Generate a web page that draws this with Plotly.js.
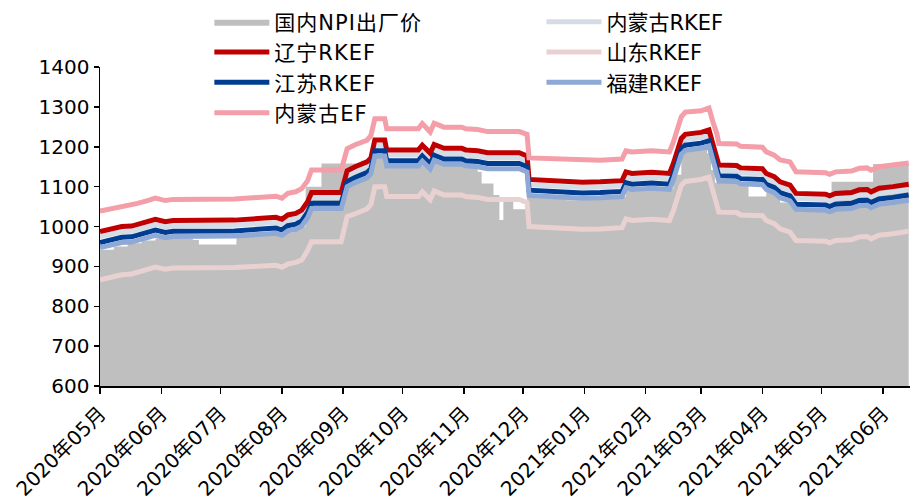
<!DOCTYPE html>
<html>
<head>
<meta charset="utf-8">
<script src="https://cdn.plot.ly/plotly-3.0.1.min.js"></script>
<style>html,body{margin:0;padding:0;background:#fff;}#chart{width:910px;height:500px;}
.legendtext{letter-spacing:1px;}</style>
</head>
<body>
<div id="chart"></div>
<script>
// ---- data ----
const dates = ["2020-05-01","2020-05-04","2020-05-08","2020-05-12","2020-05-17","2020-05-20","2020-05-25","2020-05-29","2020-06-03","2020-06-07",
"2020-07-08","2020-07-22","2020-07-29","2020-08-01","2020-08-04","2020-08-08","2020-08-11","2020-08-14","2020-08-16","2020-08-31",
"2020-09-03","2020-09-07","2020-09-10","2020-09-13","2020-09-15","2020-09-17","2020-09-22","2020-09-23","2020-10-09","2020-10-11",
"2020-10-15","2020-10-17","2020-10-20","2020-10-22","2020-10-31","2020-11-02","2020-11-08","2020-11-13","2020-11-29","2020-12-02",
"2020-12-03","2020-12-04","2020-12-09","2020-12-19","2020-12-24","2020-12-31","2021-01-09","2021-01-20","2021-01-22","2021-01-25",
"2021-02-04","2021-02-13","2021-02-15","2021-02-19","2021-02-21","2021-03-01","2021-03-05","2021-03-07","2021-03-09","2021-03-10",
"2021-03-19","2021-03-21","2021-04-01","2021-04-03","2021-04-07","2021-04-10","2021-04-15","2021-04-18","2021-05-03","2021-05-05",
"2021-05-08","2021-05-16","2021-05-20","2021-05-24","2021-05-26","2021-05-30","2021-06-06","2021-06-14"];

const liaoningRKEF = [987,991,995,1000,1001,1006,1012,1018,1012,1015,
1016,1020,1023,1018,1029,1033,1041,1062,1085,1085,
1140,1150,1155,1162,1172,1217,1217,1192,1192,1204,
1184,1206,1200,1196,1196,1192,1190,1185,1185,1180,
1177,1118,1117,1115,1112,1111,1112,1115,1137,1133,
1136,1133,1158,1221,1231,1236,1242,1209,1179,1154,
1153,1147,1145,1133,1125,1112,1104,1083,1081,1077,
1083,1085,1092,1093,1087,1096,1100,1106];

const neimengEF = [1039,1042,1046,1051,1053,1058,1065,1071,1065,1068,
1069,1073,1076,1071,1083,1087,1095,1115,1142,1142,
1195,1205,1210,1216,1228,1270,1270,1245,1245,1258,
1237,1259,1253,1249,1249,1245,1243,1238,1238,1233,
1231,1172,1171,1169,1166,1165,1166,1169,1190,1187,
1190,1187,1212,1275,1287,1290,1297,1262,1233,1208,
1207,1201,1199,1187,1179,1167,1162,1137,1135,1131,
1137,1139,1146,1147,1141,1150,1153,1159];

const neimengRKEF = [974,978,982,987,988,993,999,1005,999,1002,
1003,1007,1010,1005,1016,1020,1028,1049,1072,1072,
1127,1137,1142,1149,1159,1204,1204,1179,1179,1191,
1171,1193,1187,1183,1183,1179,1177,1172,1172,1167,
1164,1105,1104,1102,1099,1098,1099,1102,1124,1120,
1123,1120,1145,1208,1218,1223,1229,1196,1166,1141,
1140,1134,1132,1120,1112,1099,1091,1070,1068,1064,
1070,1072,1079,1080,1074,1083,1087,1093];

const jiangsuRKEF = [960,964,968,973,974,979,985,991,985,988,
989,993,996,991,1002,1006,1014,1035,1058,1058,
1113,1123,1128,1135,1145,1190,1190,1165,1165,1177,
1157,1179,1173,1169,1169,1165,1163,1158,1158,1153,
1150,1091,1090,1088,1085,1084,1085,1088,1110,1106,
1109,1106,1131,1194,1204,1209,1215,1182,1152,1127,
1126,1120,1118,1106,1098,1085,1077,1056,1054,1050,
1056,1058,1065,1066,1060,1069,1073,1079];

const fujianRKEF = [947,951,955,960,961,966,972,978,972,975,
976,980,983,978,989,993,1001,1022,1045,1045,
1100,1110,1115,1122,1132,1177,1177,1152,1152,1164,
1144,1166,1160,1156,1156,1152,1150,1145,1145,1140,
1137,1078,1077,1075,1072,1071,1072,1075,1097,1093,
1096,1093,1118,1181,1191,1196,1202,1169,1139,1114,
1113,1107,1105,1093,1085,1072,1064,1043,1041,1037,
1043,1045,1052,1053,1047,1056,1060,1066];

const shandongRKEF = [866,870,874,879,881,886,892,898,893,896,
897,900,903,898,906,910,916,940,962,962,
1025,1032,1037,1044,1055,1100,1100,1075,1075,1087,
1067,1089,1083,1079,1079,1075,1073,1068,1068,1063,
1060,1000,999,997,994,993,994,997,1019,1015,
1018,1015,1040,1103,1113,1118,1124,1091,1061,1036,
1035,1029,1027,1015,1007,994,986,965,963,959,
965,967,974,975,969,978,982,988];

const npiDates = ["2020-05-01","2020-05-08","2020-05-15","2020-05-22","2020-05-29","2020-06-17","2020-06-20","2020-07-09","2020-07-24","2020-08-07",
"2020-08-13","2020-08-21","2020-09-10","2020-09-17","2020-09-24","2020-11-05","2020-11-08","2020-11-10","2020-11-16","2020-11-19",
"2020-11-21","2020-11-26","2020-12-03","2020-12-23","2021-01-02","2021-01-22","2021-02-15","2021-02-19","2021-02-26","2021-03-04",
"2021-03-06","2021-03-08","2021-03-25","2021-04-03","2021-04-10","2021-04-17","2021-05-06","2021-05-27","2021-06-14"];
const npiPrice = [942,950,958,965,970,966,955,978,985,1000,
1100,1158,1165,1192,1165,1150,1137,1108,1079,1016,
1062,1043,1078,1066,1075,1095,1130,1190,1200,1184,
1142,1110,1075,1090,1060,1045,1112,1157,1157];

const monthTicks = ["2020-05-01","2020-06-01","2020-07-01","2020-08-01","2020-09-01","2020-10-01","2020-11-01","2020-12-01",
"2021-01-01","2021-02-01","2021-03-01","2021-04-01","2021-05-01","2021-06-01"];
const monthLabels = ["2020年05月","2020年06月","2020年07月","2020年08月","2020年09月","2020年10月","2020年11月","2020年12月",
"2021年01月","2021年02月","2021年03月","2021年04月","2021年05月","2021年06月"];

const names = {npi:"国内NPI出厂价", nm:"内蒙古RKEF", ln:"辽宁RKEF", sd:"山东RKEF", js:"江苏RKEF", fj:"福建RKEF", ef:"内蒙古EF"};

// ---- traces ----
const LW = 5;
const traces = [
  {x: npiDates, y: npiPrice, name: names.npi, type: "scatter", mode: "lines",
   line: {shape: "hv", width: 0, color: "#BFBFBF"}, fill: "tozeroy", fillcolor: "#BFBFBF", legend: "legend"},
  {x: dates, y: neimengRKEF, name: names.nm, type: "scatter", mode: "lines", line: {width: LW, color: "#D6DCE5"}, legend: "legend2"},
  {x: dates, y: liaoningRKEF, name: names.ln, type: "scatter", mode: "lines", line: {width: LW, color: "#C00000"}, legend: "legend"},
  {x: dates, y: shandongRKEF, name: names.sd, type: "scatter", mode: "lines", line: {width: LW, color: "#EAD1D1"}, legend: "legend2"},
  {x: dates, y: jiangsuRKEF, name: names.js, type: "scatter", mode: "lines", line: {width: LW, color: "#003C8F"}, legend: "legend"},
  {x: dates, y: fujianRKEF, name: names.fj, type: "scatter", mode: "lines", line: {width: LW, color: "#8EA9D6"}, legend: "legend2"},
  {x: dates, y: neimengEF, name: names.ef, type: "scatter", mode: "lines", line: {width: LW, color: "#F39EA8"}, legend: "legend"}
];

const legendFont = {family: "DejaVu Sans, 'Noto Sans CJK SC', sans-serif", size: 21, color: "#000"};
const layout = {
  width: 910, height: 500,
  margin: {l: 100, r: 0, t: 67, b: 114, pad: 0},
  paper_bgcolor: "#fff", plot_bgcolor: "#fff",
  showlegend: true,
  legend: {x: 0.135, y: 1.205, xanchor: "left", yanchor: "top", orientation: "v", bgcolor: "rgba(0,0,0,0)",
           font: legendFont, itemwidth: 55, tracegroupgap: 0},
  legend2: {x: 0.545, y: 1.205, xanchor: "left", yanchor: "top", orientation: "v", bgcolor: "rgba(0,0,0,0)",
           font: legendFont, itemwidth: 55, tracegroupgap: 0},
  xaxis: {type: "date", range: ["2020-05-01", "2021-06-14 16:00"], tickvals: monthTicks, ticktext: monthLabels,
          tickangle: -45, ticks: "outside", ticklen: 6, tickwidth: 1.5, tickcolor: "#000",
          showline: true, linecolor: "#000", linewidth: 2, showgrid: false, zeroline: false,
          tickfont: {family: "DejaVu Sans, 'Noto Sans CJK SC', sans-serif", size: 20, color: "#000"}},
  yaxis: {range: [600, 1400], tick0: 600, dtick: 100, ticks: "outside", ticklen: 5, tickwidth: 1.5, tickcolor: "#000",
          showline: true, linecolor: "#000", linewidth: 1.5, showgrid: false, zeroline: false,
          tickfont: {family: "DejaVu Sans, sans-serif", size: 20, color: "#000"}}
};

Plotly.newPlot("chart", traces, layout, {displayModeBar: false, staticPlot: true});
</script>
</body>
</html>
